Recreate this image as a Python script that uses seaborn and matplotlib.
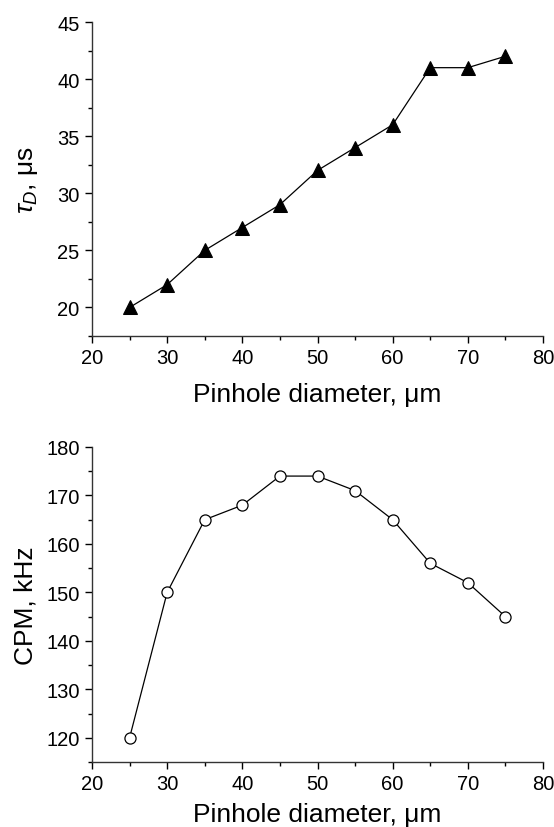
import matplotlib
matplotlib.use("Agg")
import matplotlib.pyplot as plt
import seaborn as sns
import pandas as pd
from matplotlib.ticker import MultipleLocator

# Data
diameter = [25, 30, 35, 40, 45, 50, 55, 60, 65, 70, 75]
tau_d = [20, 22, 25, 27, 29, 32, 34, 36, 41, 41, 42]
cpm = [120, 150, 165, 168, 174, 174, 171, 165, 156, 152, 145]
x_label = "Pinhole diameter, \u03bcm"
y_label_top = r"$\tau_D$, " + "\u03bcs"
y_label_bottom = "CPM, kHz"

sns.set_style("ticks")
plt.rcParams["font.family"] = ["Liberation Sans", "DejaVu Sans"]
plt.rcParams["mathtext.fontset"] = "custom"
plt.rcParams["mathtext.it"] = "Liberation Sans:italic"
plt.rcParams["mathtext.rm"] = "Liberation Sans"
plt.rcParams["text.color"] = "black"
plt.rcParams["axes.labelcolor"] = "black"

df = pd.DataFrame({"d": diameter, "tau": tau_d, "cpm": cpm})

fig = plt.figure(figsize=(5.54, 8.28), dpi=100)
ax1 = fig.add_axes([92/554, 1-337/828, (543-92)/554, (337-23)/828])
ax2 = fig.add_axes([92/554, 1-763/828, (543-92)/554, (763-448)/828])

sns.lineplot(data=df, x="d", y="tau", ax=ax1, color="black", lw=0.9,
             marker="^", markersize=10, markerfacecolor="black",
             markeredgecolor="black")
sns.lineplot(data=df, x="d", y="cpm", ax=ax2, color="black", lw=0.9,
             marker="o", markersize=8, markerfacecolor="white",
             markeredgecolor="black", markeredgewidth=0.9)

for ax in (ax1, ax2):
    ax.set_xlim(20, 80)
    ax.xaxis.set_major_locator(MultipleLocator(10))
    ax.xaxis.set_minor_locator(MultipleLocator(5))
    sns.despine(ax=ax)
    for s in ("left", "bottom"):
        ax.spines[s].set_linewidth(1.0)
        ax.spines[s].set_color("#333333")
    ax.tick_params(which="major", direction="out", length=5, width=1,
                   labelsize=14.5, colors="black", labelcolor="black", pad=4)
    ax.tick_params(which="minor", direction="out", length=3, width=1,
                   colors="black")
    ax.set_xlabel(x_label, fontsize=19, color="black")

ax1.set_ylim(17.5, 45)
ax1.yaxis.set_major_locator(MultipleLocator(5))
ax1.yaxis.set_minor_locator(MultipleLocator(2.5))
ax1.set_ylabel(y_label_top, fontsize=19, color="black")

ax2.set_ylim(115, 180)
ax2.yaxis.set_major_locator(MultipleLocator(10))
ax2.yaxis.set_minor_locator(MultipleLocator(5))
ax2.set_ylabel(y_label_bottom, fontsize=19, color="black")

ax1.xaxis.set_label_coords(0.5, -(383 - 337) / 314)
ax2.xaxis.set_label_coords(0.5, -(803 - 763) / 315)
ax1.yaxis.set_label_coords(-(92 - 40) / 451, 0.5)
ax2.yaxis.set_label_coords(-(92 - 37) / 451, 0.5)

fig.savefig("out.png", dpi=100)
